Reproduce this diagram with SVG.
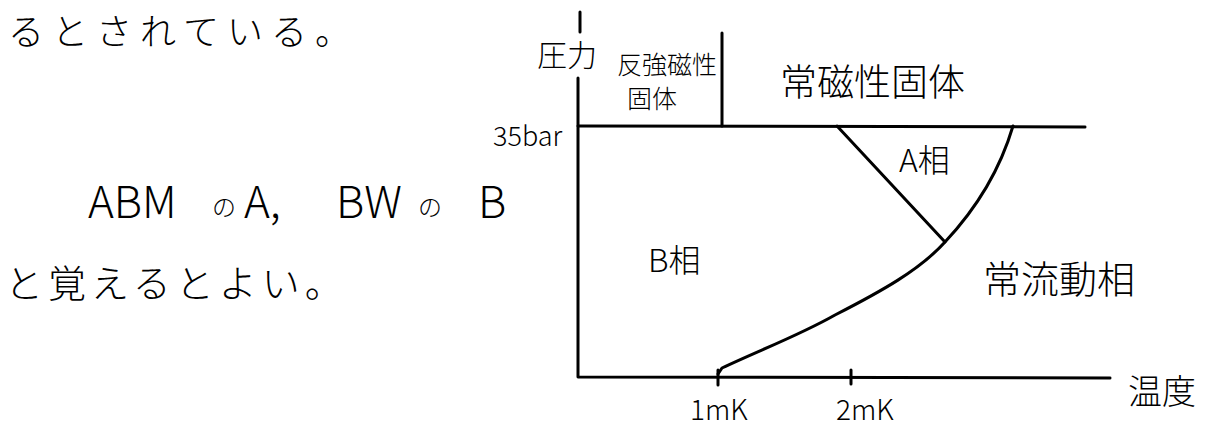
<svg xmlns="http://www.w3.org/2000/svg" width="1223" height="430" viewBox="0 0 1223 430">
<style>
.ln{fill:none;stroke:#000;stroke-width:3;stroke-linecap:round;stroke-linejoin:round}
.t{font-family:"Noto Sans CJK JP","Noto Sans",sans-serif;fill:#000;font-weight:300}
</style>
<rect width="1223" height="430" fill="#fff"/>
<g id="notes">
<text class="t" x="8" y="45" font-size="36" letter-spacing="8">るとされている。</text>
<g class="t" font-size="44">
<text x="88" y="218">ABM</text>
<text x="212" y="216" font-size="24">の</text>
<text x="244" y="218">A,</text>
<text x="336" y="218">BW</text>
<text x="418" y="216" font-size="24">の</text>
<text x="478" y="218">B</text>
</g>
<text class="t" x="5" y="297" font-size="38" letter-spacing="5">と覚えるとよい。</text>
</g>
<g id="connectors">
<path class="ln" d="M580,12 L580,32 M578,78 L578,377 L1110,378"/>
<path class="ln" d="M578,126 L1085,127"/>
<path class="ln" d="M722,33 L722,126"/>
<path class="ln" d="M837,126 L945,242"/>
<path class="ln" d="M718,374 L722,368 C760,350 800,335 835,315 C880,292 920,270 945,242 C975,210 1000,170 1013,126"/>
<path class="ln" d="M718,370 L718,385 M851,370 L851,384"/>
</g>
<g id="axes-labels">
<text class="t" x="537" y="66" font-size="30">圧力</text>
<text class="t" x="493" y="146" font-size="27">35bar</text>
<text class="t" x="1128" y="404" font-size="34">温度</text>
<text class="t" x="690" y="420" font-size="28">1mK</text>
<text class="t" x="836" y="420" font-size="28">2mK</text>
</g>
<g id="antiferro-solid">
<text class="t" x="617" y="74" font-size="25">反強磁性</text>
<text class="t" x="627" y="108" font-size="25">固体</text>
</g>
<g id="para-solid"><text class="t" x="780" y="96" font-size="37">常磁性固体</text></g>
<g id="A-phase"><text class="t" x="899" y="172" font-size="32">A相</text></g>
<g id="B-phase"><text class="t" x="648" y="272" font-size="32">B相</text></g>
<g id="normal-fluid"><text class="t" x="983" y="293" font-size="38">常流動相</text></g>
</svg>
